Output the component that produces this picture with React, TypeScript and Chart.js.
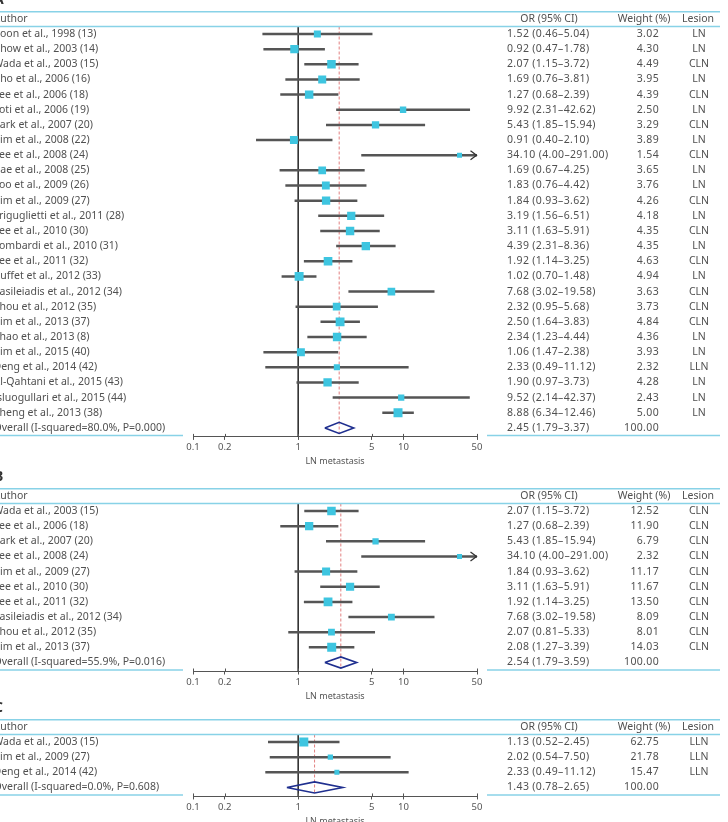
import React, { useEffect, useRef } from "react";
import { Chart, registerables } from "chart.js";
Chart.register(...registerables);

// ---------- Panel A ----------
const authorsA = [
  "Koon et al., 1998 (13)", "Chow et al., 2003 (14)", "Wada et al., 2003 (15)", "Cho et al., 2006 (16)",
  "Lee et al., 2006 (18)", "Loti et al., 2006 (19)", "Park et al., 2007 (20)", "Kim et al., 2008 (22)",
  "Lee et al., 2008 (24)", "Bae et al., 2008 (25)", "Yoo et al., 2009 (26)", "Kim et al., 2009 (27)",
  "Friguglietti et al., 2011 (28)", "Lee et al., 2010 (30)", "Lombardi et al., 2010 (31)", "Lee et al., 2011 (32)",
  "Buffet et al., 2012 (33)", "Vasileiadis et al., 2012 (34)", "Zhou et al., 2012 (35)", "Kim et al., 2013 (37)",
  "Zhao et al., 2013 (8)", "Kim et al., 2015 (40)", "Deng et al., 2014 (42)", "Al-Qahtani et al., 2015 (43)",
  "Isluogullari et al., 2015 (44)", "Zheng et al., 2013 (38)",
];
const estA = [1.52, 0.92, 2.07, 1.69, 1.27, 9.92, 5.43, 0.91, 34.1, 1.69, 1.83, 1.84, 3.19, 3.11, 4.39, 1.92, 1.02, 7.68, 2.32, 2.5, 2.34, 1.06, 2.33, 1.9, 9.52, 8.88];
const lowA = [0.46, 0.47, 1.15, 0.76, 0.68, 2.31, 1.85, 0.4, 4.0, 0.67, 0.76, 0.93, 1.56, 1.63, 2.31, 1.14, 0.7, 3.02, 0.95, 1.64, 1.23, 0.47, 0.49, 0.97, 2.14, 6.34];
const highA = [5.04, 1.78, 3.72, 3.81, 2.39, 42.62, 15.94, 2.1, 291.0, 4.25, 4.42, 3.62, 6.51, 5.91, 8.36, 3.25, 1.48, 19.58, 5.68, 3.83, 4.44, 2.38, 11.12, 3.73, 42.37, 12.46];
const ciTextA = [
  "1.52 (0.46–5.04)", "0.92 (0.47–1.78)", "2.07 (1.15–3.72)", "1.69 (0.76–3.81)", "1.27 (0.68–2.39)",
  "9.92 (2.31–42.62)", "5.43 (1.85–15.94)", "0.91 (0.40–2.10)", "34.10 (4.00–291.00)", "1.69 (0.67–4.25)",
  "1.83 (0.76–4.42)", "1.84 (0.93–3.62)", "3.19 (1.56–6.51)", "3.11 (1.63–5.91)", "4.39 (2.31–8.36)",
  "1.92 (1.14–3.25)", "1.02 (0.70–1.48)", "7.68 (3.02–19.58)", "2.32 (0.95–5.68)", "2.50 (1.64–3.83)",
  "2.34 (1.23–4.44)", "1.06 (1.47–2.38)", "2.33 (0.49–11.12)", "1.90 (0.97–3.73)", "9.52 (2.14–42.37)",
  "8.88 (6.34–12.46)",
];
const weightsA = [3.02, 4.3, 4.49, 3.95, 4.39, 2.5, 3.29, 3.89, 1.54, 3.65, 3.76, 4.26, 4.18, 4.35, 4.35, 4.63, 4.94, 3.63, 3.73, 4.84, 4.36, 3.93, 2.32, 4.28, 2.43, 5.0];
const lesionsA = ["LN", "LN", "CLN", "LN", "CLN", "LN", "CLN", "LN", "CLN", "LN", "LN", "CLN", "LN", "CLN", "LN", "CLN", "LN", "CLN", "CLN", "CLN", "LN", "LN", "LLN", "LN", "LN", "LN"];
const overallLabelA = "Overall (I-squared=80.0%, P=0.000)";
const overallA = [2.45, 1.79, 3.37];
const overallTextA = "2.45 (1.79–3.37)";

// ---------- Panel B ----------
const authorsB = [
  "Wada et al., 2003 (15)", "Lee et al., 2006 (18)", "Park et al., 2007 (20)", "Lee et al., 2008 (24)",
  "Kim et al., 2009 (27)", "Lee et al., 2010 (30)", "Lee et al., 2011 (32)", "Vasileiadis et al., 2012 (34)",
  "Zhou et al., 2012 (35)", "Kim et al., 2013 (37)",
];
const estB = [2.07, 1.27, 5.43, 34.1, 1.84, 3.11, 1.92, 7.68, 2.07, 2.08];
const lowB = [1.15, 0.68, 1.85, 4.0, 0.93, 1.63, 1.14, 3.02, 0.81, 1.27];
const highB = [3.72, 2.39, 15.94, 291.0, 3.62, 5.91, 3.25, 19.58, 5.33, 3.39];
const ciTextB = [
  "2.07 (1.15–3.72)", "1.27 (0.68–2.39)", "5.43 (1.85–15.94)", "34.10 (4.00–291.00)", "1.84 (0.93–3.62)",
  "3.11 (1.63–5.91)", "1.92 (1.14–3.25)", "7.68 (3.02–19.58)", "2.07 (0.81–5.33)", "2.08 (1.27–3.39)",
];
const weightsB = [12.52, 11.9, 6.79, 2.32, 11.17, 11.67, 13.5, 8.09, 8.01, 14.03];
const lesionsB = ["CLN", "CLN", "CLN", "CLN", "CLN", "CLN", "CLN", "CLN", "CLN", "CLN"];
const overallLabelB = "Overall (I-squared=55.9%, P=0.016)";
const overallB = [2.54, 1.79, 3.59];
const overallTextB = "2.54 (1.79–3.59)";

// ---------- Panel C ----------
const authorsC = ["Wada et al., 2003 (15)", "Kim et al., 2009 (27)", "Deng et al., 2014 (42)"];
const estC = [1.13, 2.02, 2.33];
const lowC = [0.52, 0.54, 0.49];
const highC = [2.45, 7.5, 11.12];
const ciTextC = ["1.13 (0.52–2.45)", "2.02 (0.54–7.50)", "2.33 (0.49–11.12)"];
const weightsC = [62.75, 21.78, 15.47];
const lesionsC = ["LLN", "LLN", "LLN"];
const overallLabelC = "Overall (I-squared=0.0%, P=0.608)";
const overallC = [1.43, 0.78, 2.65];
const overallTextC = "1.43 (0.78–2.65)";

// ---------- shared ----------
const axisTicks = [0.1, 0.2, 1, 5, 10, 50];
const axisTitle = "LN metastasis";
const headerAuthor = "Author";
const headerOR = "OR (95% CI)";
const headerWeight = "Weight (%)";
const headerLesion = "Lesion";
const overallWeight = "100.00";

const ROW = 15.15;
const W = 728;
const CYAN = "#3ec5e0";
const RULE = "#88d2e7";
const NAVY = "#1f2f8f";
const CI = "#555555";
const TEXT = "#505050";
const RED = "#e27f7f";
const FONT = '10.5px "Noto Sans"';

Chart.defaults.font.family = '"Noto Sans"';

type PanelProps = {
  letter: string;
  top: number;
  row0: number;
  authors: string[];
  est: number[];
  low: number[];
  high: number[];
  ciText: string[];
  weights: number[];
  lesions: string[];
  overallLabel: string;
  overall: number[];
  overallText: string;
};

function Panel(p: PanelProps) {
  const ref = useRef<HTMLCanvasElement>(null);
  const n = p.authors.length + 1;
  const localRow0 = p.row0 - p.top;
  const chartTop = localRow0 - 7.5;
  const chartBottom = localRow0 + (n - 1) * ROW + 9;
  const height = Math.ceil(chartBottom + 34);
  const AXIS_H = 30;

  useEffect(() => {
    const canvas = ref.current!;
    const maxW = Math.max(...p.weights);
    const side = (w: number) => Math.max(5, 9 * Math.sqrt(w / maxW));
    const yMin = -7.5 / ROW;
    const yMax = n - 1 + 9 / ROW;
    const ov = n - 1;
    const [oEst, oLo, oHi] = p.overall;
    const xMax = axisTicks[axisTicks.length - 1];

    const textPlugin = {
      id: "forestText",
      afterDatasetsDraw(chart: any) {
        const ctx = chart.ctx;
        const xs = chart.scales.x;
        const ys = chart.scales.y;
        ctx.save();
        ctx.strokeStyle = "#333";
        ctx.lineWidth = 1.3;
        p.high.forEach((h, i) => {
          if (h > xMax) {
            const tip = xs.getPixelForValue(xMax) - 0.5;
            const yy = ys.getPixelForValue(i);
            ctx.beginPath();
            ctx.moveTo(tip - 6, yy - 4.5);
            ctx.lineTo(tip, yy);
            ctx.lineTo(tip - 6, yy + 4.5);
            ctx.stroke();
          }
        });
        ctx.restore();
      },
      afterDraw(chart: any) {
        const ctx = chart.ctx;
        const xs = chart.scales.x;
        const ys = chart.scales.y;
        const area = chart.chartArea;
        const rowY = (v: number) => ys.getPixelForValue(v);
        ctx.save();
        // upward half of tick marks
        ctx.strokeStyle = "#555";
        ctx.lineWidth = 1;
        axisTicks.forEach((t) => {
          const px = Math.round(xs.getPixelForValue(t)) + 0.5;
          ctx.beginPath();
          ctx.moveTo(px, area.bottom - 3);
          ctx.lineTo(px, area.bottom);
          ctx.stroke();
        });
        // rules
        ctx.strokeStyle = RULE;
        ctx.lineWidth = 1.5;
        const hline = (x1: number, x2: number, yy: number) => {
          ctx.beginPath();
          ctx.moveTo(x1, yy);
          ctx.lineTo(x2, yy);
          ctx.stroke();
        };
        hline(0, 720, rowY(-1) - 7);
        hline(0, 720, area.top);
        const yb = rowY(ov) + 7.5;
        hline(0, 183, yb);
        hline(487, 720, yb);
        // panel letter
        ctx.fillStyle = "#333";
        ctx.font = 'bold 14px "Noto Sans"';
        ctx.textBaseline = "middle";
        ctx.textAlign = "left";
        ctx.fillText(p.letter, -6, rowY(-1) - 19);
        // header
        ctx.fillStyle = TEXT;
        ctx.font = FONT;
        const hy = rowY(-1);
        ctx.textAlign = "left";
        ctx.fillText(headerAuthor, -6.5, hy);
        ctx.textAlign = "center";
        ctx.fillText(headerOR, 549, hy);
        ctx.fillText(headerWeight, 644, hy);
        ctx.fillText(headerLesion, 698, hy);
        // rows
        const drawRow = (i: number, author: string, ci: string, wt: string, les: string) => {
          const yy = rowY(i);
          ctx.letterSpacing = "0px";
          ctx.textAlign = "left";
          ctx.fillText(author, -6.5, yy);
          ctx.letterSpacing = "0.35px";
          ctx.fillText(ci, 507, yy);
          ctx.textAlign = "right";
          ctx.fillText(wt, 659, yy);
          ctx.letterSpacing = "0px";
          ctx.textAlign = "center";
          if (les) ctx.fillText(les, 699, yy);
        };
        p.authors.forEach((a, i) => drawRow(i, a, p.ciText[i], p.weights[i].toFixed(2), p.lesions[i]));
        drawRow(ov, p.overallLabel, p.overallText, overallWeight, "");
        ctx.restore();
      },
    };

    const chart = new Chart(canvas, {
      type: "scatter",
      data: {
        datasets: [
          {
            type: "scatter",
            data: p.est.map((v, i) => ({ x: v, y: i })),
            pointStyle: "rect",
            pointRadius: (c: any) => side(p.weights[c.dataIndex]) / Math.SQRT2,
            pointHoverRadius: (c: any) => side(p.weights[c.dataIndex]) / Math.SQRT2,
            backgroundColor: CYAN,
            borderWidth: 0,
          } as any,
          {
            type: "line",
            data: [
              { x: oLo, y: ov },
              { x: oEst, y: ov - 0.37 },
              { x: oHi, y: ov },
              { x: oEst, y: ov + 0.37 },
              { x: oLo, y: ov },
            ],
            borderColor: NAVY,
            borderWidth: 1.6,
            pointRadius: 0,
            fill: false,
            tension: 0,
          } as any,
          {
            type: "bar",
            indexAxis: "y",
            data: p.est.map((_, i) => ({ y: i, x: [p.low[i], p.high[i]] })),
            backgroundColor: CI,
            barThickness: 1.8,
            borderWidth: 0,
            grouped: false,
            clip: 0,
          } as any,
          {
            type: "line",
            data: [
              { x: 1, y: yMin },
              { x: 1, y: yMax },
            ],
            borderColor: "#333",
            borderWidth: 1,
            pointRadius: 0,
          } as any,
          {
            type: "line",
            data: [
              { x: oEst, y: yMin },
              { x: oEst, y: ov + 0.37 },
            ],
            borderColor: RED,
            borderWidth: 1,
            borderDash: [3, 2],
            pointRadius: 0,
          } as any,
        ],
      },
      options: {
        responsive: false,
        maintainAspectRatio: false,
        animation: false,
        events: [],
        layout: {
          padding: { left: 193, right: W - 477, top: chartTop, bottom: height - chartBottom - AXIS_H },
        },
        plugins: { legend: { display: false }, tooltip: { enabled: false } },
        scales: {
          x: {
            type: "logarithmic",
            min: 0.1,
            max: 50,
            offset: false,
            afterBuildTicks: (s: any) => {
              s.ticks = axisTicks.map((v) => ({ value: v }));
            },
            afterFit: (s: any) => {
              s.height = AXIS_H;
            },
            ticks: {
              callback: (v: any) => String(v),
              autoSkip: false,
              maxRotation: 0,
              padding: 2,
              color: "#555",
              font: { size: 9.5 },
            },
            grid: { drawOnChartArea: false, drawTicks: true, tickLength: 3, color: "#555", tickColor: "#555" },
            border: { display: true, color: "#555", width: 1 },
            title: { display: true, text: axisTitle, color: "#555", font: { size: 9 }, padding: { top: 0, bottom: 0 } },
          },
          y: {
            type: "linear",
            reverse: true,
            min: yMin,
            max: yMax,
            offset: false,
            display: false,
          },
        },
      } as any,
      plugins: [textPlugin],
    });
    return () => chart.destroy();
  }, []);

  return (
    <canvas
      ref={ref}
      width={W}
      height={height}
      style={{ position: "absolute", left: 0, top: p.top, width: W, height }}
    />
  );
}

export default function App() {
  return (
    <div style={{ position: "absolute", left: 0, top: 0, width: W, height: 822, overflow: "hidden", background: "#fff" }}>
      <Panel letter="A" top={0} row0={34} authors={authorsA} est={estA} low={lowA} high={highA} ciText={ciTextA}
        weights={weightsA} lesions={lesionsA} overallLabel={overallLabelA} overall={overallA} overallText={overallTextA} />
      <Panel letter="B" top={470} row0={511} authors={authorsB} est={estB} low={lowB} high={highB} ciText={ciTextB}
        weights={weightsB} lesions={lesionsB} overallLabel={overallLabelB} overall={overallB} overallText={overallTextB} />
      <Panel letter="C" top={690} row0={742} authors={authorsC} est={estC} low={lowC} high={highC} ciText={ciTextC}
        weights={weightsC} lesions={lesionsC} overallLabel={overallLabelC} overall={overallC} overallText={overallTextC} />
    </div>
  );
}
